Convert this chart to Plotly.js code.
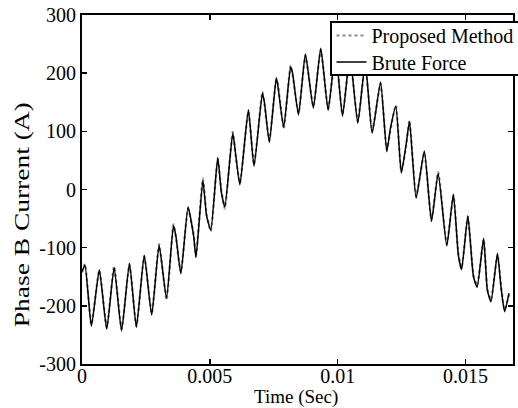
<!DOCTYPE html>
<html>
<head>
<meta charset="utf-8">
<script src="https://cdn.plot.ly/plotly-3.0.1.min.js"></script>
<style>
html,body{margin:0;padding:0;background:#fff;overflow:hidden;}
#chart{width:518px;height:408px;}
</style>
</head>
<body>
<div id="chart"></div>
<script>
var timeSec = [0, 0.000116, 0.000367, 0.000677, 0.000967, 0.001257, 0.001547, 0.001856, 0.002127, 0.002436,
  0.002726, 0.003016, 0.003306, 0.003577, 0.003674, 0.003867, 0.004149, 0.004370, 0.004459, 0.004729,
  0.004872, 0.005039, 0.005309, 0.005452, 0.005588, 0.005897, 0.006013, 0.006176, 0.006508, 0.006729,
  0.007057, 0.007142, 0.007328, 0.007599, 0.007657, 0.007889, 0.008159, 0.008237, 0.008469, 0.008739,
  0.009049, 0.009339, 0.009629, 0.009919, 0.010190, 0.010480, 0.010789, 0.011079, 0.011350, 0.011679,
  0.011922, 0.012065, 0.012278, 0.012490, 0.012684, 0.012811, 0.013071, 0.013391, 0.013670, 0.013933,
  0.014269, 0.014528, 0.014722, 0.014849, 0.015093, 0.015313, 0.015456, 0.015712, 0.015855, 0.015998,
  0.016253, 0.016396, 0.016531, 0.016705];

var bruteForce = [-141, -130, -235, -138, -240, -134, -243, -127, -237, -113,
  -216, -96, -187, -62, -80, -145, -30, -81, -117, 16,
  -45, -70, 55, -5, -30, 97, 60, 8, 137, 40,
  166, 148, 81, 192, 180, 107, 211, 200, 128, 233,
  140, 243, 136, 238, 126, 230, 114, 218, 97, 185,
  65, 105, 143, 28, 79, 117, -15, 66, -55, 28,
  -97, -8, -113, -138, -45, -150, -168, -84, -173, -193,
  -110, -170, -210, -178];

var proposedMethod = [-143, -128, -232, -139, -237, -132, -240, -129, -235, -115,
  -213, -94, -190, -60, -83, -142, -33, -78, -114, 19,
  -42, -72, 52, -2, -33, 99, 57, 11, 134, 43,
  168, 145, 84, 189, 183, 104, 213, 197, 131, 230,
  143, 240, 139, 235, 129, 227, 117, 215, 100, 182,
  68, 102, 145, 31, 76, 119, -12, 63, -52, 30,
  -94, -10, -110, -135, -47, -147, -165, -86, -170, -190,
  -112, -167, -207, -180];

var xTickVals = [0, 0.005, 0.01, 0.015];
var xTickText = ["0", "0.005", "0.01", "0.015"];
var yTickVals = [-300, -200, -100, 0, 100, 200, 300];
var yTickText = ["-300", "-200", "-100", "0", "100", "200", "300"];
var yTitleText = "Phase B Current (A)";
var xTitleText = "Time (Sec)";

var serif = "Liberation Serif, Times New Roman, serif";

var traces = [
  {x: timeSec, y: proposedMethod, type: "scatter", mode: "lines", name: "Proposed Method",
   line: {color: "#8c8c8c", width: 2.2, dash: "dot", shape: "spline", smoothing: 0.5}},
  {x: timeSec, y: bruteForce, type: "scatter", mode: "lines", name: "Brute Force",
   line: {color: "#000000", width: 1.5, shape: "spline", smoothing: 0.5}}
];

var layout = {
  width: 518, height: 408,
  margin: {l: 82, r: 0, t: 15, b: 44, pad: 0},
  paper_bgcolor: "#ffffff", plot_bgcolor: "#ffffff",
  font: {family: serif, size: 20, color: "#000"},
  showlegend: true,
  legend: {x: 0.571, y: 0.983, xanchor: "left", yanchor: "top",
    bgcolor: "#ffffff", bordercolor: "#000", borderwidth: 1.5,
    font: {family: serif, size: 20, color: "#000"}, tracegroupgap: 0},
  xaxis: {range: [0, 0.01686], tickmode: "array", tickvals: xTickVals, ticktext: xTickText,
    ticks: "inside", ticklen: 5, tickwidth: 1.5, tickcolor: "#000",
    showline: true, linecolor: "#000", linewidth: 2, mirror: "ticks",
    showgrid: false, zeroline: false, ticklabelstandoff: -7,
    tickfont: {family: serif, size: 20, color: "#000"}},
  yaxis: {range: [-300, 300], tickmode: "array", tickvals: yTickVals, ticktext: yTickText,
    ticks: "inside", ticklen: 5, tickwidth: 1.5, tickcolor: "#000",
    showline: true, linecolor: "#000", linewidth: 2, mirror: "ticks",
    showgrid: false, zeroline: false,
    tickfont: {family: serif, size: 20, color: "#000"}},
  annotations: [
    {text: yTitleText, xref: "paper", yref: "paper", x: -0.1376, y: 0.427,
     xanchor: "center", yanchor: "middle", textangle: -90, showarrow: false,
     font: {family: serif, size: 20, color: "#000"}},
    {text: xTitleText, xref: "paper", yref: "paper", x: 0.497, y: -0.094,
     xanchor: "center", yanchor: "middle", showarrow: false,
     font: {family: serif, size: 19, color: "#000"}}
  ]
};

Plotly.newPlot("chart", traces, layout, {displayModeBar: false, staticPlot: true}).then(function (gd) {
  // stretch the y title along its length like the reference
  var ann = gd.querySelector(".annotation-text");
  if (ann) {
    ann.setAttribute("textLength", "225");
    ann.setAttribute("lengthAdjust", "spacingAndGlyphs");
  }
  // compact the legend like the reference box
  var leg = gd.querySelector(".legend");
  if (leg) {
    leg.setAttribute("transform", "translate(330,21)");
    var bg = leg.querySelector("rect.bg");
    if (bg) { bg.setAttribute("height", "53"); bg.setAttribute("width", "200"); }
    var items = leg.querySelectorAll("g.traces");
    var ys = [14.5, 41];
    for (var i = 0; i < items.length && i < ys.length; i++) {
      var tr = items[i].getAttribute("transform") || "";
      var m = /translate\(([-\d.]+)/.exec(tr);
      var tx = m ? m[1] : "0";
      items[i].setAttribute("transform", "translate(" + tx + "," + ys[i] + ")");
    }
  }
});
</script>
</body>
</html>
